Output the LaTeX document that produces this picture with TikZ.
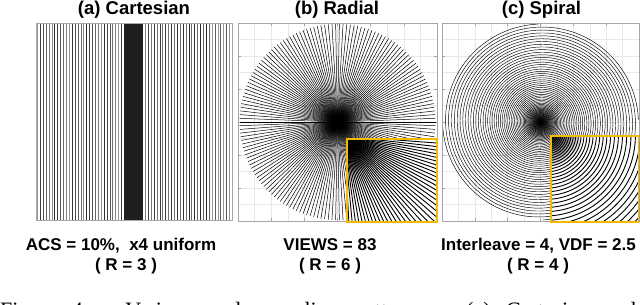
\documentclass[tikz,border=0pt]{standalone}
\usepackage{fontspec}
\setmainfont{Liberation Serif}
\setsansfont{Liberation Sans}
\usetikzlibrary{fadings}
\tikzfading[name=myfadeout, inner color=transparent!0, outer color=transparent!100]
\definecolor{insety}{RGB}{245,185,0}
\tikzset{
  ttl/.style={font=\sffamily\bfseries\fontsize{18.5}{20}\selectfont, anchor=base, inner sep=0pt},
  capt/.style={font=\sffamily\bfseries\fontsize{17}{19}\selectfont, anchor=base, inner sep=0pt},
  frm/.style={draw=gray!70, line width=0.6pt},
  gridc/.style={draw=gray!18, line width=0.4pt},
  tick/.style={draw=gray!70, line width=0.5pt},
  spoke/.style={draw=black, line width=0.5pt},
  spokebig/.style={draw=black, line width=0.9pt},
  spir/.style={draw=black, line width=0.45pt},
  spirbig/.style={draw=black, line width=0.9pt},
  insetbox/.style={draw=insety, line width=1.8pt},
  blob/.style={fill=black, path fading=myfadeout}
}
\begin{document}
\begin{tikzpicture}[x=1pt,y=-1pt]
\useasboundingbox (0,0) rectangle (640,305);
\fill[white] (0,0) rectangle (640,305);

% ---------- titles
\node[ttl] (ta) at (134,14.5) {(a) Cartesian};
\node[ttl] (tb) at (337,14.5) {(b) Radial};
\node[ttl] (tc) at (541.5,14.5) {(c) Spiral};

% ---------- (a) Cartesian
\foreach \i in {0,...,29}{
  \pgfmathtruncatemacro{\g}{40+mod(\i*37,45)}
  \draw[black!\g, line width=0.9pt] ({37.5+\i*2.9},23) -- ({37.5+\i*2.9},220);
  \pgfmathtruncatemacro{\h}{40+mod(\i*23+11,45)}
  \draw[black!\h, line width=0.9pt] ({145.5+\i*2.9},23) -- ({145.5+\i*2.9},220);
}
\fill[black!88] (124,23) rectangle (143,220);
\draw[frm] (36,23) rectangle (232,220);

% ---------- (b) Radial
\foreach \j in {1,...,11}{
  \draw[gridc] ({238+\j*199/12},23) -- ++(0,198);
  \draw[gridc] (238,{23+\j*198/12}) -- ++(199,0);
}
\foreach \j in {1,...,5}{
  \draw[tick] ({238+\j*199/6},23) -- ++(0,3);
  \draw[tick] ({238+\j*199/6},221) -- ++(0,-3);
  \draw[tick] (238,{23+\j*198/6}) -- ++(3,0);
  \draw[tick] (437,{23+\j*198/6}) -- ++(-3,0);
}
\foreach \i in {0,...,82}{
  \draw[spoke] ({337.5+98*cos(\i*180/83)},{122+98*sin(\i*180/83)}) -- ({337.5-98*cos(\i*180/83)},{122-98*sin(\i*180/83)});
}
\path[blob] (337.5,122) circle (20);
\draw[frm] (238,23) rectangle (437,221);
% inset b
\begin{scope}
  \clip (347,139) rectangle (437,222);
  \fill[white] (347,139) rectangle (437,222);
  \foreach \i in {0,...,42}{
    \draw[spokebig] (344,136) -- ++({\i*180/83}:170);
  }
  \path[blob] (344,136) circle (38);
\end{scope}
\draw[insetbox] (347,139) rectangle (437,222);

% ---------- (c) Spiral
\foreach \j in {1,...,11}{
  \draw[gridc] ({442+\j*197/12},23) -- ++(0,198);
  \draw[gridc] (442,{23+\j*198/12}) -- ++(197,0);
}
\foreach \j in {1,...,5}{
  \draw[tick] ({442+\j*197/6},23) -- ++(0,3);
  \draw[tick] ({442+\j*197/6},221) -- ++(0,-3);
  \draw[tick] (442,{23+\j*198/6}) -- ++(3,0);
}
\foreach \k in {0,1,2,3}{
  \draw[spir] plot[domain=0:1, samples=1800, variable=\t]
    ({540.5+98*\t*\t*cos(360*16*\t+90*\k)},{122+98*\t*\t*sin(360*16*\t+90*\k)});
}
\path[blob] (540.5,122) circle (20);
\draw[frm] (442,23) rectangle (639,221);
% inset c
\begin{scope}
  \clip (551,136) rectangle (639,222);
  \fill[white] (551,136) rectangle (639,222);
  \foreach \k in {0,1,2,3}{
    \draw[spirbig] plot[domain=0:0.8, samples=1500, variable=\t]
      ({548+2.4*98*\t*\t*cos(360*16*\t+90*\k)},{133+2.4*98*\t*\t*sin(360*16*\t+90*\k)});
  }
  \path[blob] (548,133) circle (35);
\end{scope}
\draw[insetbox] (551,136) rectangle (638.5,222);

% ---------- captions
\node[capt] (ca1) at (121,250) {ACS = 10\%,\ \ x4 uniform};
\node[capt] (ca2) at (126,270.5) {( R = 3 )};
\node[capt] (cb1) at (330,250) {VIEWS = 83};
\node[capt] (cb2) at (330,270.5) {( R = 6 )};
\node[capt] (cc1) at (538.5,250) {Interleave = 4, VDF = 2.5};
\node[capt] (cc2) at (538,270.5) {( R = 4 )};

% ---------- figure caption (cut off at the bottom edge)
\node[anchor=base west, inner sep=0pt, font=\fontsize{22}{24}\selectfont] (fig) at (0,317.5)
  {\makebox[636pt][s]{Fig. 4. Various undersampling patterns. (a) Cartesian and}};
\end{tikzpicture}
\end{document}
